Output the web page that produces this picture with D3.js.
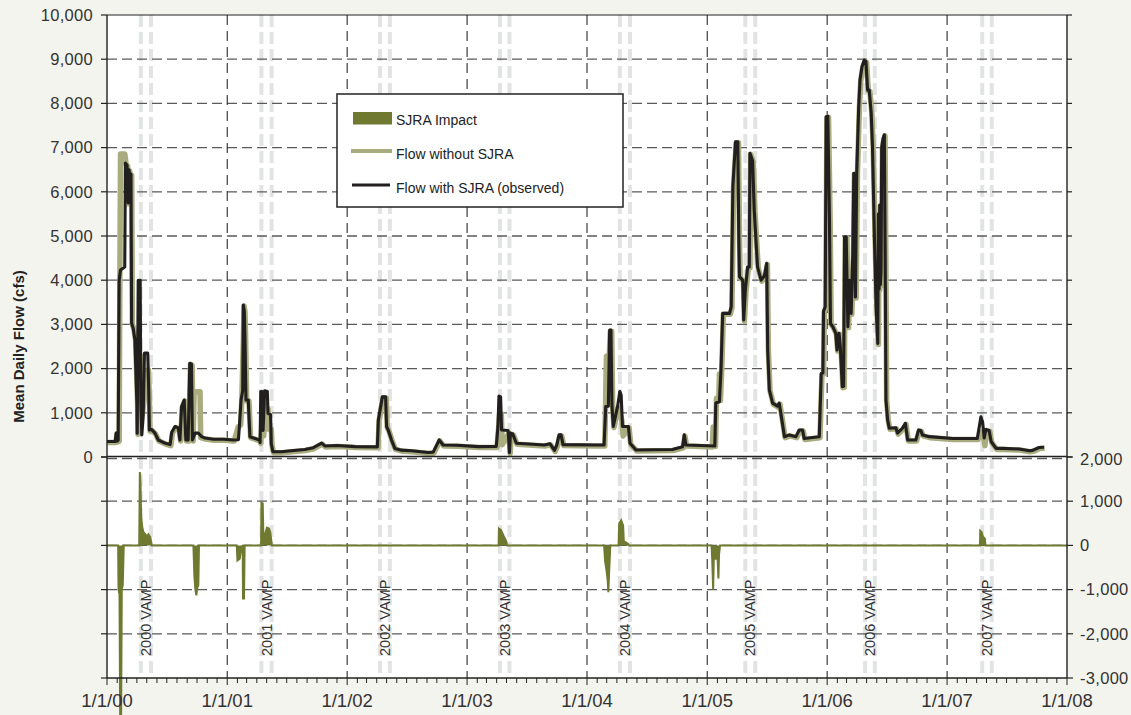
<!DOCTYPE html>
<html>
<head>
<meta charset="utf-8">
<script src="https://cdn.jsdelivr.net/npm/d3@7"></script>
<style>
  html, body { margin: 0; padding: 0; background: #f4f4ee; }
  svg { display: block; }
  text { fill: #333; }
</style>
</head>
<body>
<svg id="chart" width="1131" height="715"></svg>
<script>
// ---------------- DATA ----------------
const upperTicks = [0,1000,2000,3000,4000,5000,6000,7000,8000,9000,10000];
const lowerTicks = [2000,1000,0,-1000,-2000,-3000];
const yearTicks = ["2000-01-01","2001-01-01","2002-01-01","2003-01-01","2004-01-01","2005-01-01","2006-01-01","2007-01-01","2008-01-01"];
const vampYears = ["2000","2001","2002","2003","2004","2005","2006","2007"];
const vampStart = ["2000-04-13","2001-04-15","2002-04-11","2003-04-11","2004-04-10","2005-04-27","2006-04-26","2007-04-18"];
const vampEnd   = ["2000-05-14","2001-05-16","2002-05-11","2003-05-10","2004-05-11","2005-05-27","2006-05-26","2007-05-17"];
const legendLabels = ["SJRA Impact","Flow without SJRA","Flow with SJRA (observed)"];

// Flow with SJRA (observed), cfs
const flowWith = [
 ["2000-01-01",350],["2000-01-26",350],["2000-01-29",540],["2000-02-01",360],["2000-02-04",380],
 ["2000-02-07",4000],["2000-02-11",4230],["2000-02-24",4300],["2000-02-26",6650],["2000-03-02",6600],
 ["2000-03-06",5750],["2000-03-08",6500],["2000-03-11",6300],["2000-03-14",6400],["2000-03-16",3030],
 ["2000-03-21",2900],["2000-03-26",2650],["2000-04-01",1200],["2000-04-02",540],["2000-04-05",4000],
 ["2000-04-09",3900],["2000-04-11",4000],["2000-04-13",1200],["2000-04-16",500],["2000-04-20",900],
 ["2000-04-24",2350],["2000-05-04",2350],["2000-05-07",1500],["2000-05-09",610],["2000-05-16",620],
 ["2000-05-26",540],["2000-06-05",385],["2000-06-25",315],["2000-07-11",280],["2000-07-16",560],
 ["2000-07-26",690],["2000-08-05",660],["2000-08-10",385],["2000-08-15",1140],["2000-08-23",1290],
 ["2000-08-28",385],["2000-09-04",385],["2000-09-09",2120],["2000-09-14",2100],["2000-09-17",385],
 ["2000-09-25",540],["2000-10-05",540],["2000-10-15",460],["2000-10-25",430],["2000-11-20",400],
 ["2000-12-20",400],["2001-01-20",385],["2001-02-04",390],["2001-02-07",700],["2001-02-12",1290],
 ["2001-02-17",1500],["2001-02-19",3440],["2001-02-22",3300],["2001-02-24",2650],["2001-02-27",1290],
 ["2001-03-06",1290],["2001-03-11",460],["2001-04-09",385],["2001-04-11",330],["2001-04-13",1480],
 ["2001-04-17",1480],["2001-04-20",600],["2001-04-25",1500],["2001-05-03",1480],["2001-05-05",990],
 ["2001-05-13",960],["2001-05-15",300],["2001-05-20",120],["2001-06-15",120],["2001-07-15",140],
 ["2001-08-25",170],["2001-09-20",210],["2001-10-15",315],["2001-10-25",250],["2001-12-01",260],
 ["2002-01-25",235],["2002-04-03",230],["2002-04-06",840],["2002-04-18",1360],["2002-04-28",1360],
 ["2002-05-01",690],["2002-05-06",610],["2002-05-16",385],["2002-05-26",195],["2002-06-15",155],
 ["2002-07-16",140],["2002-09-04",100],["2002-09-20",110],["2002-10-08",385],["2002-10-20",270],
 ["2002-12-01",265],["2003-02-04",235],["2003-03-31",240],["2003-04-05",690],["2003-04-08",1380],
 ["2003-04-13",1360],["2003-04-16",610],["2003-05-06",600],["2003-05-10",100],["2003-05-13",540],
 ["2003-05-20",520],["2003-05-31",310],["2003-08-24",270],["2003-09-10",300],["2003-09-24",150],
 ["2003-10-01",270],["2003-10-08",500],["2003-10-14",500],["2003-10-20",280],["2004-01-25",270],
 ["2004-02-22",270],["2004-02-27",1140],["2004-03-06",1150],["2004-03-10",2870],["2004-03-14",2870],
 ["2004-03-17",1150],["2004-03-21",690],["2004-03-27",900],["2004-04-03",1140],["2004-04-10",1480],
 ["2004-04-14",1400],["2004-04-18",690],["2004-05-06",690],["2004-05-11",310],["2004-05-29",160],
 ["2004-09-17",170],["2004-10-18",230],["2004-10-23",500],["2004-10-28",270],["2005-01-24",250],
 ["2005-01-27",1220],["2005-02-07",1250],["2005-02-12",2000],["2005-02-17",3250],["2005-03-10",3250],
 ["2005-03-15",3400],["2005-03-20",6120],["2005-03-28",7130],["2005-04-04",7130],["2005-04-07",4980],
 ["2005-04-09",4080],["2005-04-19",4000],["2005-04-22",3100],["2005-04-27",3780],["2005-05-04",4300],
 ["2005-05-09",4300],["2005-05-11",6870],["2005-05-19",6700],["2005-05-24",5590],["2005-06-03",4300],
 ["2005-06-14",4000],["2005-06-24",4100],["2005-07-01",4380],["2005-07-04",2420],["2005-07-09",1520],
 ["2005-07-19",1220],["2005-08-03",1150],["2005-08-08",1220],["2005-08-13",990],["2005-08-24",460],
 ["2005-09-08",500],["2005-09-28",460],["2005-10-08",610],["2005-10-18",610],["2005-10-23",420],
 ["2005-12-08",460],["2005-12-14",1890],["2005-12-19",1900],["2005-12-21",3300],["2005-12-26",3400],
 ["2005-12-29",7700],["2006-01-03",7710],["2006-01-08",5360],["2006-01-11",3020],["2006-01-18",2950],
 ["2006-01-27",2800],["2006-01-31",2420],["2006-02-06",2800],["2006-02-10",2500],["2006-02-16",1590],
 ["2006-02-20",1600],["2006-02-23",4980],["2006-02-28",4980],["2006-03-05",2950],["2006-03-10",4000],
 ["2006-03-15",3250],["2006-03-20",4610],["2006-03-23",6420],["2006-03-28",3620],["2006-04-01",6420],
 ["2006-04-07",7920],["2006-04-11",8530],["2006-04-17",8830],["2006-04-24",8980],["2006-04-29",8950],
 ["2006-05-04",8300],["2006-05-09",8300],["2006-05-15",7780],["2006-05-19",7020],["2006-05-25",4910],
 ["2006-05-30",3400],["2006-06-04",2570],["2006-06-06",5500],["2006-06-08",3800],["2006-06-10",5700],
 ["2006-06-12",3900],["2006-06-14",4200],["2006-06-16",7000],["2006-06-20",7200],["2006-06-24",7290],
 ["2006-06-27",4000],["2006-06-29",1290],["2006-07-04",840],["2006-07-09",650],["2006-07-29",660],
 ["2006-08-03",540],["2006-08-18",650],["2006-08-27",760],["2006-09-03",385],["2006-09-28",385],
 ["2006-10-06",610],["2006-10-13",600],["2006-10-18",500],["2006-11-08",460],["2007-01-18",420],
 ["2007-04-03",420],["2007-04-14",910],["2007-04-19",800],["2007-04-24",430],["2007-04-29",620],
 ["2007-05-04",610],["2007-05-09",600],["2007-05-15",350],["2007-05-30",195],["2007-06-19",195],
 ["2007-08-08",180],["2007-09-08",140],["2007-09-18",150],["2007-10-08",215],["2007-10-23",220]
];

// Flow without SJRA, cfs
const flowWithout = [
 ["2000-01-01",350],["2000-01-26",350],["2000-01-29",540],["2000-02-01",360],["2000-02-05",380],
 ["2000-02-07",4000],["2000-02-09",6880],["2000-02-22",6880],["2000-02-26",6650],["2000-03-02",6600],
 ["2000-03-06",5750],["2000-03-08",6500],["2000-03-11",6300],["2000-03-14",6400],["2000-03-16",3030],
 ["2000-03-21",2900],["2000-03-26",2650],["2000-04-01",1200],["2000-04-02",540],["2000-04-05",2300],
 ["2000-04-11",2300],["2000-04-13",1200],["2000-04-16",1000],["2000-04-20",1300],["2000-04-24",1900],
 ["2000-05-04",2000],["2000-05-07",1300],["2000-05-09",610],["2000-05-16",620],
 ["2000-05-26",540],["2000-06-05",385],["2000-06-25",315],["2000-07-11",280],["2000-07-16",560],
 ["2000-07-26",690],["2000-08-05",660],["2000-08-10",385],["2000-08-15",1140],["2000-08-23",1290],
 ["2000-08-28",385],["2000-09-04",385],["2000-09-09",2120],["2000-09-14",2100],["2000-09-17",385],
 ["2000-09-20",1500],["2000-10-08",1500],["2000-10-10",460],["2000-10-25",430],["2000-11-20",400],
 ["2000-12-20",400],["2001-01-20",385],["2001-02-01",700],["2001-02-09",750],["2001-02-12",1290],
 ["2001-02-17",2700],["2001-02-19",3440],["2001-02-22",3300],["2001-02-24",2650],["2001-02-27",1290],
 ["2001-03-06",1290],["2001-03-11",460],["2001-04-09",385],["2001-04-11",330],["2001-04-13",600],
 ["2001-04-17",600],["2001-04-20",500],["2001-04-25",1200],["2001-05-03",1100],["2001-05-05",650],
 ["2001-05-13",650],["2001-05-15",300],["2001-05-20",120],["2001-06-15",120],["2001-07-15",140],
 ["2001-08-25",170],["2001-09-20",210],["2001-10-15",315],["2001-10-25",250],["2001-12-01",260],
 ["2002-01-25",235],["2002-04-03",230],["2002-04-06",840],["2002-04-18",1360],["2002-04-28",1360],
 ["2002-05-01",690],["2002-05-06",610],["2002-05-16",385],["2002-05-26",195],["2002-06-15",155],
 ["2002-07-16",140],["2002-09-04",100],["2002-09-20",110],["2002-10-08",385],["2002-10-20",270],
 ["2002-12-01",265],["2003-02-04",235],["2003-03-31",240],["2003-04-05",690],["2003-04-08",1000],
 ["2003-04-13",1000],["2003-04-16",300],["2003-05-06",560],["2003-05-10",100],["2003-05-13",540],
 ["2003-05-20",520],["2003-05-31",310],["2003-08-24",270],["2003-09-10",300],["2003-09-24",150],
 ["2003-10-01",270],["2003-10-08",500],["2003-10-14",500],["2003-10-20",280],["2004-01-25",270],
 ["2004-02-22",270],["2004-02-27",2300],["2004-03-06",2200],["2004-03-10",2870],["2004-03-14",2870],
 ["2004-03-17",1150],["2004-03-21",690],["2004-03-27",900],["2004-04-03",1140],["2004-04-10",950],
 ["2004-04-14",850],["2004-04-18",500],["2004-05-06",680],["2004-05-11",310],["2004-05-29",160],
 ["2004-09-17",170],["2004-10-18",230],["2004-10-23",500],["2004-10-28",270],["2005-01-14",250],
 ["2005-01-17",700],["2005-01-20",400],["2005-01-24",260],
 ["2005-01-27",1350],["2005-02-03",1300],["2005-02-05",1900],["2005-02-08",1300],["2005-02-12",2000],["2005-02-17",3250],["2005-03-10",3250],
 ["2005-03-15",3400],["2005-03-20",6120],["2005-03-28",7130],["2005-04-04",7130],["2005-04-07",4980],
 ["2005-04-09",4080],["2005-04-19",4000],["2005-04-22",3100],["2005-04-27",3780],["2005-05-04",4300],
 ["2005-05-09",4300],["2005-05-11",6870],["2005-05-19",6700],["2005-05-24",5590],["2005-06-03",4300],
 ["2005-06-14",4000],["2005-06-24",4100],["2005-07-01",4380],["2005-07-04",2420],["2005-07-09",1520],
 ["2005-07-19",1220],["2005-08-03",1150],["2005-08-08",1220],["2005-08-13",990],["2005-08-24",460],
 ["2005-09-08",500],["2005-09-28",460],["2005-10-08",610],["2005-10-18",610],["2005-10-23",420],
 ["2005-12-08",460],["2005-12-14",1890],["2005-12-19",1900],["2005-12-21",3300],["2005-12-26",3400],
 ["2005-12-29",7700],["2006-01-03",7710],["2006-01-08",5360],["2006-01-11",3020],["2006-01-18",2950],
 ["2006-01-27",2800],["2006-01-31",2420],["2006-02-06",2800],["2006-02-10",2500],["2006-02-16",1590],
 ["2006-02-20",1600],["2006-02-23",4980],["2006-02-28",4980],["2006-03-05",2950],["2006-03-10",4000],
 ["2006-03-15",3250],["2006-03-20",4610],["2006-03-23",6420],["2006-03-28",3620],["2006-04-01",6420],
 ["2006-04-07",7920],["2006-04-11",8530],["2006-04-17",8830],["2006-04-24",8980],["2006-04-29",8950],
 ["2006-05-04",8300],["2006-05-09",8300],["2006-05-15",7780],["2006-05-19",7020],["2006-05-25",4910],
 ["2006-05-30",3400],["2006-06-04",2570],["2006-06-06",5500],["2006-06-08",3800],["2006-06-10",5700],
 ["2006-06-12",3900],["2006-06-14",4200],["2006-06-16",7000],["2006-06-20",7200],["2006-06-24",7290],
 ["2006-06-27",4000],["2006-06-29",1290],["2006-07-04",840],["2006-07-09",650],["2006-07-29",660],
 ["2006-08-03",540],["2006-08-18",650],["2006-08-27",760],["2006-09-03",385],["2006-09-28",385],
 ["2006-10-06",610],["2006-10-13",600],["2006-10-18",500],["2006-11-08",460],["2007-01-18",420],
 ["2007-04-03",420],["2007-04-14",580],["2007-04-19",500],["2007-04-24",280],["2007-04-29",620],
 ["2007-05-04",610],["2007-05-09",600],["2007-05-15",350],["2007-05-30",195],["2007-06-19",195],
 ["2007-08-08",180],["2007-09-08",140],["2007-09-18",150],["2007-10-08",215],["2007-10-23",220]
];

// SJRA impact (with - without), cfs
const sjraImpact = [
 ["2000-01-01",0],["2000-02-04",0],["2000-02-05",-1000],["2000-02-08",-1100],["2000-02-10",-3850],
 ["2000-02-13",-3850],["2000-02-15",-1000],["2000-02-18",-900],["2000-02-21",0],
 ["2000-04-08",0],["2000-04-10",1660],["2000-04-12",1400],["2000-04-14",640],["2000-04-18",380],
 ["2000-04-21",300],["2000-04-26",260],["2000-05-01",200],["2000-05-06",250],["2000-05-12",180],["2000-05-16",0],
 ["2000-09-20",0],["2000-09-23",-700],["2000-09-26",-1000],["2000-09-29",-1130],["2000-10-02",-950],
 ["2000-10-05",-900],["2000-10-07",0],
 ["2001-01-30",0],["2001-02-01",-340],["2001-02-08",-300],["2001-02-12",-100],["2001-02-17",0],
 ["2001-02-18",-1200],["2001-02-21",-1200],["2001-02-23",0],
 ["2001-04-14",0],["2001-04-15",960],["2001-04-19",950],["2001-04-21",200],["2001-04-26",250],
 ["2001-05-02",400],["2001-05-08",380],["2001-05-12",300],["2001-05-17",0],
 ["2003-04-07",0],["2003-04-08",380],["2003-04-14",350],["2003-04-22",220],["2003-04-30",100],["2003-05-03",0],
 ["2004-02-22",0],["2004-02-25",-350],["2004-03-01",-600],["2004-03-04",-800],["2004-03-06",-1060],
 ["2004-03-09",-500],["2004-03-12",0],
 ["2004-04-06",0],["2004-04-08",500],["2004-04-14",570],["2004-04-20",450],["2004-04-22",100],
 ["2004-05-05",30],["2004-05-08",0],
 ["2005-01-14",0],["2005-01-16",-300],["2005-01-19",-1000],["2005-01-21",-300],["2005-01-28",-300],
 ["2005-02-01",-200],["2005-02-04",-750],["2005-02-06",-200],["2005-02-09",0],
 ["2007-04-11",0],["2007-04-12",330],["2007-04-16",300],["2007-04-20",200],["2007-04-26",150],
 ["2007-04-28",0],["2008-01-01",0]
];

// ---------------- CHART ----------------
const parse = d3.timeParse("%Y-%m-%d");
const svg = d3.select("#chart");
const L = 107, R = 1067, TOP = 15, MID = 457, BOT = 678;

const x = d3.scaleTime().domain([parse(yearTicks[0]), parse(yearTicks[yearTicks.length-1])]).range([L, R]);
const yU = d3.scaleLinear().domain([0, 10000]).range([MID, TOP]);
const yL = d3.scaleLinear().domain([-3000, 2000]).range([BOT, MID]);

// plot background
svg.append("rect").attr("x", L).attr("y", TOP).attr("width", R - L).attr("height", BOT - TOP).attr("fill", "#fff");

// VAMP bands (double dashed light lines)
const vamp = vampYears.map((yr, i) => ({yr, s: parse(vampStart[i]), e: parse(vampEnd[i])}));
const gV = svg.append("g");
vamp.forEach(v => {
  [v.s, v.e].forEach(d => {
    gV.append("line").attr("x1", x(d)).attr("x2", x(d)).attr("y1", TOP).attr("y2", BOT)
      .attr("stroke", "#e2e3e3").attr("stroke-width", 4).attr("stroke-dasharray", "12,5");
  });
});

// horizontal gridlines
const gG = svg.append("g");
upperTicks.filter(t => t > 0 && t < 10000).forEach(t => {
  gG.append("line").attr("x1", L).attr("x2", R).attr("y1", yU(t)).attr("y2", yU(t))
    .attr("stroke", "#5a5a5a").attr("stroke-width", 1.3).attr("stroke-dasharray", "10,5");
});
lowerTicks.filter(t => t > -3000).forEach(t => {
  const off = (t === 2000 ? 1.5 : 0);
  gG.append("line").attr("x1", L).attr("x2", R).attr("y1", yL(t) + off).attr("y2", yL(t) + off)
    .attr("stroke", "#5a5a5a").attr("stroke-width", 1.3).attr("stroke-dasharray", "10,5");
});
// vertical year gridlines
yearTicks.slice(1, -1).forEach(s => {
  const d = parse(s);
  gG.append("line").attr("x1", x(d)).attr("x2", x(d)).attr("y1", TOP).attr("y2", BOT)
    .attr("stroke", "#2a2a2a").attr("stroke-width", 1.1).attr("stroke-dasharray", "10,6");
});

// lines upper panel
const lineU = d3.line().x(d => x(parse(d[0]))).y(d => yU(d[1]));
svg.append("path").datum(flowWithout).attr("d", lineU)
  .attr("fill", "none").attr("stroke", "#a9ac7e").attr("stroke-width", 5.5)
  .attr("stroke-linejoin", "round").attr("transform", "translate(0.7,1)");
svg.append("path").datum(flowWith).attr("d", lineU)
  .attr("fill", "none").attr("stroke", "#221f1f").attr("stroke-width", 3.1)
  .attr("stroke-linejoin", "round");

// impact lower panel
const areaL = d3.area().x(d => x(parse(d[0]))).y0(yL(0)).y1(d => yL(d[1]));
svg.append("path").datum(sjraImpact).attr("d", areaL).attr("fill", "#6f7a30");
svg.append("path").datum(sjraImpact).attr("d", d3.line().x(d => x(parse(d[0]))).y(d => yL(d[1])))
  .attr("fill", "none").attr("stroke", "#6f7a30").attr("stroke-width", 2);

// axes
const axisColor = "#222";
const gA = svg.append("g");
gA.append("line").attr("x1", L).attr("x2", L).attr("y1", TOP).attr("y2", BOT).attr("stroke", axisColor).attr("stroke-width", 1.4);
gA.append("line").attr("x1", R).attr("x2", R).attr("y1", TOP).attr("y2", BOT).attr("stroke", axisColor).attr("stroke-width", 1.4);
gA.append("line").attr("x1", L).attr("x2", R).attr("y1", TOP).attr("y2", TOP).attr("stroke", axisColor).attr("stroke-width", 1);
gA.append("line").attr("x1", L).attr("x2", R).attr("y1", MID - 0.5).attr("y2", MID - 0.5).attr("stroke", axisColor).attr("stroke-width", 1.5);
gA.append("line").attr("x1", L).attr("x2", R).attr("y1", BOT).attr("y2", BOT).attr("stroke", axisColor).attr("stroke-width", 1.4);

const fmt = v => d3.format(",")(v).replace("\u2212", "-");
const numFont = "'Liberation Sans', Arial, sans-serif";
upperTicks.forEach(t => {
  gA.append("line").attr("x1", L - 6).attr("x2", L).attr("y1", yU(t)).attr("y2", yU(t)).attr("stroke", axisColor).attr("stroke-width", 1.2);
  gA.append("line").attr("x1", R).attr("x2", R + 5).attr("y1", yU(t)).attr("y2", yU(t)).attr("stroke", axisColor).attr("stroke-width", 1.2);
  gA.append("text").attr("x", L - 14).attr("y", yU(t)).attr("dy", "0.35em").attr("text-anchor", "end")
    .style("font-family", numFont).style("font-size", "16.5px").style("letter-spacing", "0.3px").text(fmt(t));
});
lowerTicks.forEach(t => {
  gA.append("line").attr("x1", L - 6).attr("x2", L).attr("y1", yL(t)).attr("y2", yL(t)).attr("stroke", axisColor).attr("stroke-width", 1.2);
  gA.append("line").attr("x1", R).attr("x2", R + 6).attr("y1", yL(t)).attr("y2", yL(t)).attr("stroke", axisColor).attr("stroke-width", 1.2);
  gA.append("text").attr("x", R + 13).attr("y", yL(t) + (t === 2000 ? 2 : 0)).attr("dy", "0.35em").attr("text-anchor", "start")
    .style("font-family", numFont).style("font-size", "16.5px").style("letter-spacing", "0.3px").text(fmt(t));
});

// bottom axis: monthly minor ticks, yearly labels
const months = d3.timeMonth.range(x.domain()[0], d3.timeDay.offset(x.domain()[1], 1));
months.forEach(m => {
  const isYear = m.getMonth() === 0;
  gA.append("line").attr("x1", x(m)).attr("x2", x(m)).attr("y1", BOT).attr("y2", BOT + (isYear ? 7 : 5))
    .attr("stroke", axisColor).attr("stroke-width", 1);
});
const xfmt = d3.timeFormat("%-m/%-d/%y");
yearTicks.forEach(s => {
  const d = parse(s);
  gA.append("text").attr("x", x(d)).attr("y", 707).attr("text-anchor", "middle")
    .style("font-family", "'Liberation Sans Narrow', 'Arial Narrow', 'Liberation Sans', sans-serif")
    .style("font-size", "18.5px").text(xfmt(d));
});

// VAMP labels
vamp.forEach(v => {
  const cx = (x(v.s) + x(v.e)) / 2 + 5;
  svg.append("text").attr("transform", `translate(${cx},656) rotate(-90)`)
    .attr("text-anchor", "start").style("font-family", numFont).style("font-size", "14.5px")
    .text(v.yr + " VAMP");
});

// y-axis title
svg.append("text").attr("transform", `translate(24,${(TOP + BOT) / 2}) rotate(-90)`)
  .attr("text-anchor", "middle").style("font-family", numFont).style("font-weight", "bold")
  .style("font-size", "15px").style("fill", "#222").text("Mean Daily Flow (cfs)");

// legend
const lg = svg.append("g");
lg.append("rect").attr("x", 337).attr("y", 94).attr("width", 286).attr("height", 113)
  .attr("fill", "#fff").attr("stroke", "#222").attr("stroke-width", 1.5);
lg.append("rect").attr("x", 353).attr("y", 112).attr("width", 39).attr("height", 12.5).attr("fill", "#6f7a30");
lg.append("line").attr("x1", 351).attr("x2", 392).attr("y1", 151).attr("y2", 151).attr("stroke", "#a9ac7e").attr("stroke-width", 4);
lg.append("line").attr("x1", 352).attr("x2", 390).attr("y1", 185).attr("y2", 185).attr("stroke", "#221f1f").attr("stroke-width", 3);
[120, 154, 188].forEach((yy, i) => {
  lg.append("text").attr("x", 396).attr("y", yy).attr("dy", "0.35em")
    .style("font-family", numFont).style("font-size", "14px").style("fill", "#222").text(legendLabels[i]);
});
</script>
</body>
</html>
